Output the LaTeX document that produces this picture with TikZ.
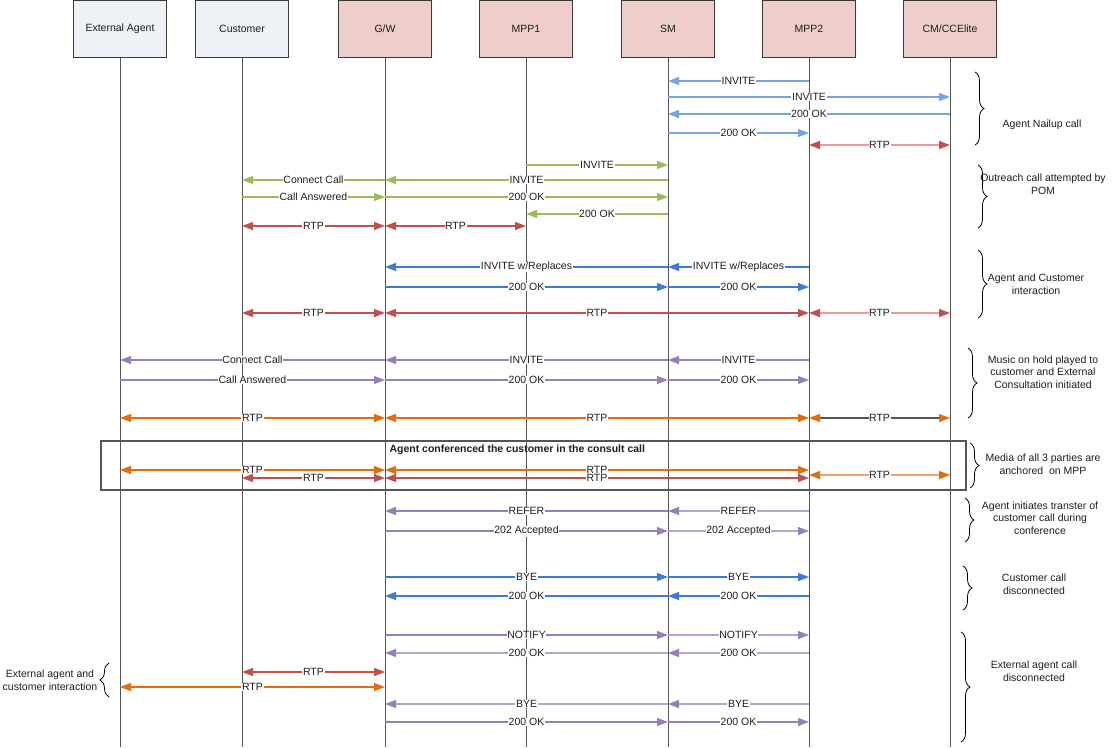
\documentclass[tikz,border=0pt]{standalone}
\usepackage{fontspec}
\setmainfont{Liberation Sans}
\usetikzlibrary{arrows.meta,decorations.pathreplacing}

\definecolor{boxline}{HTML}{3A3A3A}
\definecolor{userfill}{HTML}{EEF1F6}
\definecolor{sysfill}{HTML}{EECDCB}
\definecolor{lifegray}{HTML}{555555}
\definecolor{nailblue}{HTML}{78A3E2}
\definecolor{callgreen}{HTML}{9BBB59}
\definecolor{rtpred}{HTML}{C0504D}
\definecolor{rtpredlt}{HTML}{E39E9C}
\definecolor{sipblue}{HTML}{3A7BD5}
\definecolor{sippurple}{HTML}{9580BC}
\definecolor{sippurplelt}{HTML}{B3A4D2}
\definecolor{rtporange}{HTML}{E46C0A}
\definecolor{rtporangelt}{HTML}{F0A26A}
\definecolor{textgray}{HTML}{1E1E1E}

\begin{document}
\begin{tikzpicture}[x=1pt, y=-1pt, font=\fontsize{10.5}{12.5}\selectfont, text=textgray,
    mtip/.tip={Triangle[length=11pt, width=8pt]},
    actor/.style = {draw=boxline, line width=1pt, minimum width=93pt, minimum height=57pt},
    life/.style = {draw=lifegray, line width=1pt},
    msg/.style = {line width=1.2pt, -{mtip}},
    rtp/.style = {line width=1.2pt, {mtip}-{mtip}},
    lbl/.style = {fill=white, inner sep=0.6pt, text=textgray},
    note/.style = {align=center, inner sep=0pt},
    grp/.style = {decorate, decoration={brace, amplitude=9pt}, line width=0.8pt}]
\useasboundingbox (0,0) rectangle (1115,747);

% participants
\node[actor, fill=userfill] (ext)  at (120,28.5) {External Agent};
\node[actor, fill=userfill] (cust) at (242,28.5) {Customer};
\node[actor, fill=sysfill]  (gw)   at (385,28.5) {G/W};
\node[actor, fill=sysfill]  (mpp1) at (526,28.5) {MPP1};
\node[actor, fill=sysfill]  (sm)   at (668,28.5) {SM};
\node[actor, fill=sysfill]  (mpp2) at (809,28.5) {MPP2};
\node[actor, fill=sysfill]  (cm)   at (950,28.5) {CM/CCElite};
\foreach \n in {ext,cust,gw,mpp1,sm,mpp2,cm}
  \draw[life] (\n.south) -- (\n.south |- 0,747);

% conference frame
\draw[draw=lifegray, line width=1.2pt] (101,441) rectangle (966,490);
\node[anchor=west, font=\fontsize{10.5}{12.5}\selectfont\bfseries] (conf) at (386,450)
  {Agent conferenced the customer in the consult call};

% agent nailup call
\draw[msg, nailblue] (mpp2 |- 0,81) -- node[lbl] {INVITE} (sm |- 0,81);
\draw[msg, nailblue] (sm |- 0,97) -- node[lbl] {INVITE} (cm |- 0,97);
\draw[msg, nailblue] (cm |- 0,114) -- node[lbl] {200 OK} (sm |- 0,114);
\draw[msg, nailblue] (sm |- 0,133) -- node[lbl] {200 OK} (mpp2 |- 0,133);
\draw[rtp, rtpredlt, {mtip[color=rtpred]}-{mtip[color=rtpred]}] (mpp2 |- 0,145) -- node[lbl] {RTP} (cm |- 0,145);

% outreach call
\draw[msg, callgreen] (mpp1 |- 0,165) -- node[lbl] {INVITE} (sm |- 0,165);
\draw[msg, callgreen] (sm |- 0,180) -- node[lbl] {INVITE} (gw |- 0,180);
\draw[msg, callgreen] (gw |- 0,180) -- node[lbl] {Connect Call} (cust |- 0,180);
\draw[msg, callgreen] (cust |- 0,197) -- node[lbl] {Call Answered} (gw |- 0,197);
\draw[msg, callgreen] (gw |- 0,197) -- node[lbl] {200 OK} (sm |- 0,197);
\draw[msg, callgreen] (sm |- 0,214) -- node[lbl] {200 OK} (mpp1 |- 0,214);
\draw[rtp, rtpred] (cust |- 0,226) -- node[lbl] {RTP} (gw |- 0,226);
\draw[rtp, rtpred] (gw |- 0,226) -- node[lbl] {RTP} (mpp1 |- 0,226);

% agent and customer interaction
\draw[msg, sipblue] (mpp2 |- 0,267) -- node[lbl] {INVITE w/Replaces} (sm |- 0,267);
\draw[msg, sipblue] (sm |- 0,267) -- node[lbl] {INVITE w/Replaces} (gw |- 0,267);
\draw[msg, sipblue] (gw |- 0,287) -- node[lbl] {200 OK} (sm |- 0,287);
\draw[msg, sipblue] (sm |- 0,287) -- node[lbl] {200 OK} (mpp2 |- 0,287);
\draw[rtp, rtpred] (cust |- 0,313) -- node[lbl] {RTP} (gw |- 0,313);
\draw[rtp, rtpred] (gw |- 0,313) -- node[lbl] {RTP} (mpp2 |- 0,313);
\draw[rtp, rtpredlt, {mtip[color=rtpred]}-{mtip[color=rtpred]}] (mpp2 |- 0,313) -- node[lbl] {RTP} (cm |- 0,313);

% music on hold, external consultation
\draw[msg, sippurple] (mpp2 |- 0,360) -- node[lbl] {INVITE} (sm |- 0,360);
\draw[msg, sippurple] (sm |- 0,360) -- node[lbl] {INVITE} (gw |- 0,360);
\draw[msg, sippurple] (gw |- 0,360) -- node[lbl] {Connect Call} (ext |- 0,360);
\draw[msg, sippurple] (ext |- 0,380) -- node[lbl] {Call Answered} (gw |- 0,380);
\draw[msg, sippurple] (gw |- 0,380) -- node[lbl] {200 OK} (sm |- 0,380);
\draw[msg, sippurple] (sm |- 0,380) -- node[lbl] {200 OK} (mpp2 |- 0,380);
\draw[rtp, rtporange] (ext |- 0,418) -- node[lbl] {RTP} (gw |- 0,418);
\draw[rtp, rtporange] (gw |- 0,418) -- node[lbl] {RTP} (mpp2 |- 0,418);
\draw[rtp, lifegray, {mtip[color=rtporange]}-{mtip[color=rtporange]}] (mpp2 |- 0,418) -- node[lbl] {RTP} (cm |- 0,418);

% conference
\draw[rtp, rtporange] (ext |- 0,470) -- node[lbl] {RTP} (gw |- 0,470);
\draw[rtp, rtpred] (cust |- 0,478) -- node[lbl] {RTP} (gw |- 0,478);
\draw[rtp, rtporange] (gw |- 0,470) -- node[lbl] {RTP} (mpp2 |- 0,470);
\draw[rtp, rtpred] (gw |- 0,478) -- node[lbl] {RTP} (mpp2 |- 0,478);
\draw[rtp, rtporangelt, {mtip[color=rtporange]}-{mtip[color=rtporange]}] (mpp2 |- 0,475) -- node[lbl] {RTP} (cm |- 0,475);

% transfer
\draw[msg, sippurplelt, -{mtip[color=sippurple]}] (mpp2 |- 0,511) -- node[lbl] {REFER} (sm |- 0,511);
\draw[msg, sippurple] (sm |- 0,511) -- node[lbl] {REFER} (gw |- 0,511);
\draw[msg, sippurple] (gw |- 0,531) -- node[lbl] {202 Accepted} (sm |- 0,531);
\draw[msg, sippurplelt, -{mtip[color=sippurple]}] (sm |- 0,531) -- node[lbl] {202 Accepted} (mpp2 |- 0,531);

% customer call disconnected
\draw[msg, sipblue] (gw |- 0,577) -- node[lbl] {BYE} (sm |- 0,577);
\draw[msg, sipblue] (sm |- 0,577) -- node[lbl] {BYE} (mpp2 |- 0,577);
\draw[msg, sipblue] (mpp2 |- 0,596) -- node[lbl] {200 OK} (sm |- 0,596);
\draw[msg, sipblue] (sm |- 0,596) -- node[lbl] {200 OK} (gw |- 0,596);

% external agent call disconnected
\draw[msg, sippurple] (gw |- 0,635) -- node[lbl] {NOTIFY} (sm |- 0,635);
\draw[msg, sippurplelt, -{mtip[color=sippurple]}] (sm |- 0,635) -- node[lbl] {NOTIFY} (mpp2 |- 0,635);
\draw[msg, sippurplelt, -{mtip[color=sippurple]}] (mpp2 |- 0,653) -- node[lbl] {200 OK} (sm |- 0,653);
\draw[msg, sippurplelt, -{mtip[color=sippurple]}] (sm |- 0,653) -- node[lbl] {200 OK} (gw |- 0,653);
\draw[rtp, rtpred] (cust |- 0,672) -- node[lbl] {RTP} (gw |- 0,672);
\draw[rtp, rtporange] (ext |- 0,687) -- node[lbl] {RTP} (gw |- 0,687);
\draw[msg, sippurplelt, -{mtip[color=sippurple]}] (mpp2 |- 0,704) -- node[lbl] {BYE} (sm |- 0,704);
\draw[msg, sippurplelt, -{mtip[color=sippurple]}] (sm |- 0,704) -- node[lbl] {BYE} (gw |- 0,704);
\draw[msg, sippurple] (gw |- 0,722) -- node[lbl] {200 OK} (sm |- 0,722);
\draw[msg, sippurple] (sm |- 0,722) -- node[lbl] {200 OK} (mpp2 |- 0,722);

% phase notes
\draw[grp] (975,72) -- (975,145);
\node[note] (n1) at (1042,125) {Agent Nailup call};
\draw[grp] (978,165) -- (978,228);
\node[note] (n2) at (1043,184) {Outreach call attempted by\\POM};
\draw[grp] (978,250) -- (978,318);
\node[note] (n3) at (1036,284) {Agent and Customer\\interaction};
\draw[grp] (968,348) -- (968,418);
\node[note] (n4) at (1043,372) {Music on hold played to\\customer and External\\Consultation initiated};
\draw[grp] (970,443) -- (970,488);
\node[note] (n5) at (1043,464) {Media of all 3 parties are\\anchored\ \ on MPP};
\draw[grp] (965,498) -- (965,542);
\node[note] (n6) at (1040,518) {Agent initiates transter of\\customer call during\\conference};
\draw[grp] (963,566) -- (963,610);
\node[note] (n7) at (1034,584) {Customer call\\disconnected};
\draw[grp] (961,632) -- (961,742);
\node[note] (n8) at (1034,671) {External agent call\\disconnected};
\draw[grp] (109,697) -- (109,663);
\node[note] (n9) at (50,680) {External agent and\\customer interaction};
\end{tikzpicture}
\end{document}
